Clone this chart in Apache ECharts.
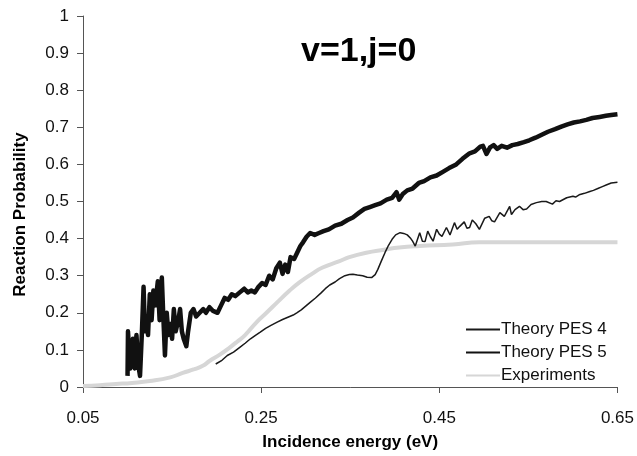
<!DOCTYPE html>
<html>
<head>
<meta charset="utf-8">
<script src="https://cdn.jsdelivr.net/npm/echarts@6/dist/echarts.min.js"></script>
<style>
html, body { margin: 0; padding: 0; background: #fff; }
#chart { width: 637px; height: 456px; }
</style>
</head>
<body>
<div id="chart"></div>
<script>
// data: [incidence energy (eV), reaction probability]
var pes4 = [
  [0.199, 0.062], [0.206, 0.072], [0.212, 0.085], [0.219, 0.094], [0.226, 0.107],
  [0.232, 0.118], [0.238, 0.130], [0.244, 0.140], [0.249, 0.148], [0.255, 0.158],
  [0.261, 0.166], [0.268, 0.175], [0.274, 0.182], [0.278, 0.186], [0.282, 0.190],
  [0.286, 0.194], [0.290, 0.200], [0.295, 0.208], [0.300, 0.218], [0.305, 0.228],
  [0.311, 0.240], [0.317, 0.253], [0.322, 0.265], [0.327, 0.275], [0.333, 0.283],
  [0.338, 0.292], [0.344, 0.300], [0.349, 0.303], [0.353, 0.304], [0.358, 0.302],
  [0.364, 0.300], [0.369, 0.296], [0.374, 0.295], [0.378, 0.303], [0.381, 0.317],
  [0.385, 0.340], [0.389, 0.362], [0.393, 0.382], [0.397, 0.398], [0.401, 0.410],
  [0.406, 0.416], [0.410, 0.414], [0.414, 0.410], [0.418, 0.400], [0.420, 0.393],
  [0.423, 0.380], [0.425, 0.376], [0.428, 0.416], [0.431, 0.393], [0.434, 0.392],
  [0.437, 0.420], [0.440, 0.405], [0.443, 0.393], [0.447, 0.425], [0.450, 0.412],
  [0.453, 0.406], [0.458, 0.430], [0.462, 0.410], [0.467, 0.443], [0.470, 0.425],
  [0.473, 0.433], [0.478, 0.445], [0.481, 0.428], [0.484, 0.430], [0.487, 0.450],
  [0.491, 0.440], [0.495, 0.425], [0.501, 0.455], [0.506, 0.460], [0.509, 0.448],
  [0.512, 0.445], [0.518, 0.470], [0.523, 0.460], [0.529, 0.487], [0.531, 0.465],
  [0.535, 0.478], [0.540, 0.487], [0.544, 0.478], [0.548, 0.480], [0.553, 0.492],
  [0.559, 0.497], [0.565, 0.500], [0.570, 0.500], [0.577, 0.493], [0.581, 0.502],
  [0.585, 0.500], [0.593, 0.510], [0.600, 0.514], [0.603, 0.512], [0.607, 0.518],
  [0.613, 0.522], [0.619, 0.527], [0.623, 0.530], [0.628, 0.535], [0.633, 0.540],
  [0.638, 0.545], [0.643, 0.550], [0.650, 0.552]
];

var pes5 = [
  [0.100, 0.030], [0.1005, 0.150], [0.103, 0.050], [0.106, 0.130], [0.108, 0.050],
  [0.110, 0.140], [0.112, 0.060], [0.114, 0.030], [0.116, 0.140], [0.118, 0.270],
  [0.1195, 0.150], [0.121, 0.190], [0.123, 0.140], [0.125, 0.250], [0.127, 0.180],
  [0.129, 0.260], [0.131, 0.220], [0.134, 0.285], [0.136, 0.180], [0.1385, 0.295],
  [0.140, 0.200], [0.142, 0.085], [0.144, 0.200], [0.146, 0.140], [0.148, 0.170],
  [0.150, 0.130], [0.152, 0.210], [0.154, 0.150], [0.157, 0.180], [0.159, 0.210],
  [0.161, 0.150], [0.163, 0.130], [0.166, 0.110], [0.168, 0.150], [0.171, 0.200],
  [0.174, 0.210], [0.177, 0.190], [0.181, 0.200], [0.185, 0.210], [0.188, 0.200],
  [0.192, 0.215], [0.196, 0.205], [0.201, 0.200], [0.205, 0.220], [0.209, 0.240],
  [0.213, 0.235], [0.217, 0.250], [0.221, 0.245], [0.226, 0.255], [0.231, 0.265],
  [0.235, 0.255], [0.239, 0.260], [0.243, 0.255], [0.247, 0.270], [0.251, 0.280],
  [0.255, 0.275], [0.259, 0.300], [0.263, 0.290], [0.267, 0.320], [0.271, 0.335],
  [0.274, 0.305], [0.277, 0.330], [0.280, 0.310], [0.283, 0.350], [0.287, 0.345],
  [0.290, 0.360], [0.294, 0.380], [0.297, 0.390], [0.301, 0.405], [0.305, 0.415],
  [0.310, 0.410], [0.315, 0.415], [0.320, 0.420], [0.326, 0.425], [0.333, 0.435],
  [0.340, 0.440], [0.347, 0.450], [0.353, 0.457], [0.360, 0.470], [0.366, 0.480],
  [0.372, 0.485], [0.378, 0.490], [0.384, 0.495], [0.391, 0.505], [0.397, 0.510],
  [0.402, 0.525], [0.405, 0.505], [0.409, 0.520], [0.414, 0.530], [0.420, 0.535],
  [0.427, 0.550], [0.433, 0.555], [0.440, 0.565], [0.447, 0.570], [0.454, 0.580],
  [0.461, 0.590], [0.469, 0.600], [0.476, 0.615], [0.484, 0.630], [0.490, 0.635],
  [0.496, 0.648], [0.499, 0.650], [0.503, 0.628], [0.507, 0.646], [0.511, 0.652],
  [0.515, 0.642], [0.520, 0.650], [0.526, 0.645], [0.532, 0.652], [0.538, 0.655],
  [0.545, 0.660], [0.551, 0.665], [0.558, 0.672], [0.565, 0.680], [0.572, 0.688],
  [0.580, 0.695], [0.587, 0.702], [0.594, 0.708], [0.601, 0.713], [0.608, 0.716],
  [0.615, 0.720], [0.622, 0.725], [0.630, 0.728], [0.637, 0.731], [0.643, 0.733],
  [0.650, 0.735]
];

var experiments = [
  [0.050, 0.003], [0.069, 0.005], [0.087, 0.008], [0.105, 0.011], [0.125, 0.016],
  [0.148, 0.026], [0.162, 0.038], [0.175, 0.048], [0.185, 0.058], [0.192, 0.070],
  [0.204, 0.088], [0.215, 0.107], [0.223, 0.122], [0.232, 0.140], [0.245, 0.175],
  [0.256, 0.200], [0.268, 0.228], [0.282, 0.260], [0.293, 0.282], [0.307, 0.305],
  [0.319, 0.322], [0.338, 0.339], [0.349, 0.350], [0.368, 0.362], [0.388, 0.370],
  [0.405, 0.376], [0.428, 0.380], [0.465, 0.384], [0.495, 0.390], [0.574, 0.390],
  [0.650, 0.390]
];

var seriesNames = ['Theory PES 4', 'Theory PES 5', 'Experiments'];
var xTicks = { min: 0.05, max: 0.65, step: 0.2 };
var yTicks = { min: 0, max: 1, step: 0.1 };

var font = 'Arial, "Liberation Sans", sans-serif';
var chart = echarts.init(document.getElementById('chart'), null, { renderer: 'canvas' });

chart.setOption({
  backgroundColor: '#fff',
  animation: false,
  title: {
    text: 'v=1,j=0',
    left: 296,
    top: 30,
    textStyle: { fontFamily: font, fontSize: 34, fontWeight: 'bold', color: '#000' }
  },
  legend: {
    data: seriesNames,
    orient: 'vertical',
    left: 460,
    top: 316,
    itemWidth: 34,
    itemHeight: 14,
    itemGap: 6,
    itemStyle: { opacity: 0 },
    textStyle: { fontFamily: font, fontSize: 17, color: '#111', padding: [0, 0, 0, -4] }
  },
  grid: { left: 83, right: 19, top: 16, bottom: 68, containLabel: false },
  xAxis: {
    type: 'value',
    min: xTicks.min,
    max: xTicks.max,
    interval: xTicks.step,
    name: 'Incidence energy (eV)',
    nameLocation: 'middle',
    nameGap: 47,
    nameTextStyle: { fontFamily: font, fontSize: 17, fontWeight: 'bold', color: '#000' },
    axisLine: { lineStyle: { color: '#555', width: 1 } },
    axisTick: { show: true, length: 6, lineStyle: { color: '#555' } },
    axisLabel: {
      fontFamily: font, fontSize: 17, color: '#111', margin: 23,
      formatter: function (v) { return v.toFixed(2); }
    },
    splitLine: { show: false }
  },
  yAxis: {
    type: 'value',
    min: yTicks.min,
    max: yTicks.max,
    interval: yTicks.step,
    name: 'Reaction Probability',
    nameLocation: 'middle',
    nameRotate: 90,
    nameGap: 54,
    nameTextStyle: { fontFamily: font, fontSize: 17, fontWeight: 'bold', color: '#000', padding: [0, 26, 0, 0] },
    axisLine: { show: true, lineStyle: { color: '#555', width: 1 } },
    axisTick: { show: true, length: 6, lineStyle: { color: '#555' } },
    axisLabel: {
      fontFamily: font, fontSize: 17, color: '#111', margin: 14,
      formatter: function (v) { return String(Math.round(v * 10) / 10); }
    },
    splitLine: { show: false }
  },
  series: [
    {
      name: seriesNames[2],
      type: 'line',
      data: experiments,
      symbol: 'none',
      smooth: true,
      z: 1,
      lineStyle: { color: '#d6d6d6', width: 4 },
      itemStyle: { color: '#d6d6d6' }
    },
    {
      name: seriesNames[0],
      type: 'line',
      data: pes4,
      symbol: 'none',
      z: 3,
      lineStyle: { color: '#1a1a1a', width: 1.5 },
      itemStyle: { color: '#1a1a1a' }
    },
    {
      name: seriesNames[1],
      type: 'line',
      data: pes5,
      symbol: 'none',
      z: 2,
      lineStyle: { color: '#111', width: 4.5, join: 'round' },
      itemStyle: { color: '#111' }
    }
  ]
});
</script>
</body>
</html>
